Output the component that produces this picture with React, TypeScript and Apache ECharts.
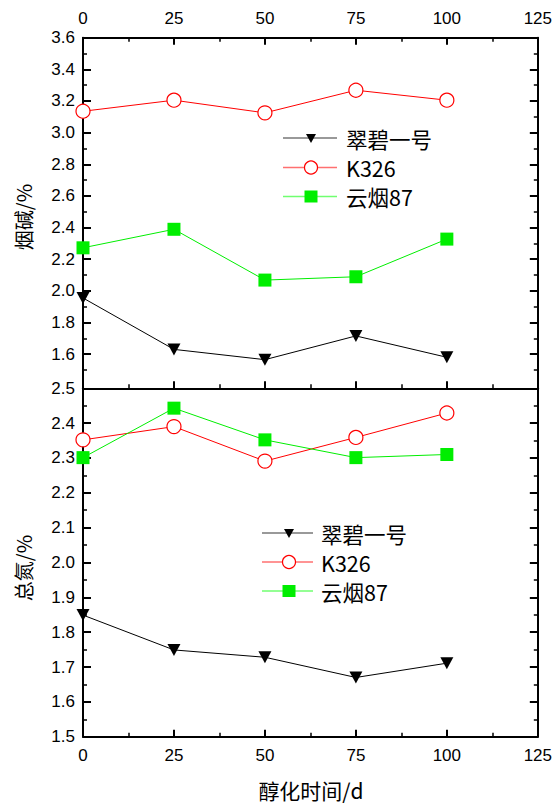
import React, { useEffect, useRef } from "react";
import * as echarts from "echarts";

const xDays = [0, 25, 50, 75, 100];
const seriesNames = ["翠碧一号", "K326", "云烟87"];

// Top panel: 烟碱/%
const nicotineCuibi = [1.955, 1.63, 1.565, 1.715, 1.58];
const nicotineK326 = [3.135, 3.205, 3.125, 3.268, 3.205];
const nicotineYunyan = [2.272, 2.389, 2.068, 2.089, 2.327];

// Bottom panel: 总氮/%
const nitrogenCuibi = [1.849, 1.749, 1.728, 1.67, 1.711];
const nitrogenK326 = [2.352, 2.39, 2.291, 2.359, 2.429];
const nitrogenYunyan = [2.301, 2.443, 2.352, 2.301, 2.31];

const topMajorTicks = [1.6, 1.8, 2.0, 2.2, 2.4, 2.6, 2.8, 3.0, 3.2, 3.4, 3.6];
const topMinorTicks = [1.5, 1.7, 1.9, 2.1, 2.3, 2.5, 2.7, 2.9, 3.1, 3.3, 3.5];

const FONT = "'Liberation Sans', Arial, 'Noto Sans CJK SC', sans-serif";
const CJK = "'Noto Sans CJK SC', 'Liberation Sans', sans-serif";

const colors = ["#000000", "#ff0000", "#00ee00"];
const legendLine = ["#777777", "#ff7070", "#70ff70"];
const symbols = ["path://M0,0L10,0L5,9Z", "circle", "rect"];
const symbolSizes: any[] = [[13, 12], 14, 13];

function pairs(vals: number[]) {
  return xDays.map((x, i) => [x, vals[i]]);
}

function legendGraphics(x0: number, lineLen: number, symX: number, textX: number, rows: number[]) {
  const els: any[] = [];
  rows.forEach((y, i) => {
    els.push({
      type: "line", shape: { x1: x0, y1: y, x2: x0 + lineLen, y2: y },
      style: { stroke: legendLine[i], lineWidth: 1.5 }, z: 10,
    });
    if (i === 0) {
      els.push({
        type: "polygon", shape: { points: [[symX - 5, y - 4], [symX + 5, y - 4], [symX, y + 5]] },
        style: { fill: "#000" }, z: 11,
      });
    } else if (i === 1) {
      els.push({
        type: "circle", shape: { cx: symX, cy: y, r: 6.5 },
        style: { fill: "#fff", stroke: colors[1], lineWidth: 1.2 }, z: 11,
      });
    } else {
      els.push({
        type: "rect", shape: { x: symX - 6.5, y: y - 6, width: 13, height: 12 },
        style: { fill: colors[2] }, z: 11,
      });
    }
    els.push({
      type: "text", x: textX, y,
      style: {
        text: seriesNames[i], fontSize: 21.5, fontFamily: CJK, fill: "#000",
        textAlign: "left", textVerticalAlign: "middle",
      }, z: 11,
    });
  });
  return els;
}

export default function App() {
  const ref = useRef<HTMLDivElement>(null);
  useEffect(() => {
    document.body.style.margin = "0";
    const chart = echarts.init(ref.current!, null, { renderer: "svg" });
    const axisLine = { show: true, lineStyle: { color: "#000", width: 2 } };
    const label = { color: "#000", fontSize: 17, fontFamily: FONT };
    const xBase = { type: "value", min: 0, max: 125, interval: 25, splitLine: { show: false } };
    const topMin = 1.384;
    const majorTick = (len: number) => ({ show: true, inside: true, length: len, lineStyle: { width: 2, color: "#000" } });
    const minorTick = { show: true, splitNumber: 2, length: 4, lineStyle: { width: 1.5, color: "#000" } };

    const mkSeries = (name: string, i: number, vals: number[], xi: number, yi: number) => ({
      name,
      type: "line",
      xAxisIndex: xi,
      yAxisIndex: yi,
      data: pairs(vals),
      symbol: symbols[i],
      symbolSize: symbolSizes[i],
      lineStyle: { color: colors[i], width: 1 },
      itemStyle: i === 1
        ? { color: "#ffffff", borderColor: colors[i], borderWidth: 1.2 }
        : { color: colors[i], borderWidth: 0 },
      color: colors[i],
      z: 3,
    });

    chart.setOption({
      animation: false,
      backgroundColor: "#ffffff",
      grid: [
        { left: 83, right: 14, top: 37.7, bottom: 416.7 },
        { left: 83, right: 14, top: 388.3, bottom: 68.3 },
      ],
      xAxis: [
        {
          ...xBase, gridIndex: 0, position: "top", axisLine,
          axisTick: majorTick(7), minorTick,
          axisLabel: { ...label, margin: 11 },
        },
        {
          ...xBase, gridIndex: 0, position: "bottom", axisLine,
          axisTick: majorTick(7), minorTick,
          axisLabel: { show: false },
        },
        {
          ...xBase, gridIndex: 1, position: "bottom", axisLine,
          axisTick: majorTick(7), minorTick,
          axisLabel: { ...label, margin: 10 },
        },
      ],
      yAxis: [
        {
          type: "value", gridIndex: 0, position: "left", min: topMin, max: 3.6, axisLine,
          splitLine: { show: false },
          axisTick: { ...majorTick(8), customValues: topMajorTicks },
          axisLabel: { ...label, margin: 8, customValues: topMajorTicks, formatter: (v: number) => v.toFixed(1) },
        },
        {
          type: "value", gridIndex: 0, position: "left", min: topMin, max: 3.6,
          axisLine: { show: false }, splitLine: { show: false },
          axisTick: { show: true, inside: true, length: 4, customValues: topMinorTicks, lineStyle: { width: 1.5, color: "#000" } },
          axisLabel: { show: false },
        },
        {
          type: "value", gridIndex: 0, position: "right", min: topMin, max: 3.6, axisLine,
          splitLine: { show: false },
          axisTick: { ...majorTick(8), customValues: topMajorTicks },
          axisLabel: { show: false },
        },
        {
          type: "value", gridIndex: 0, position: "right", min: topMin, max: 3.6,
          axisLine: { show: false }, splitLine: { show: false },
          axisTick: { show: true, inside: true, length: 4, customValues: topMinorTicks, lineStyle: { width: 1.5, color: "#000" } },
          axisLabel: { show: false },
        },
        {
          type: "value", gridIndex: 1, position: "left", min: 1.5, max: 2.5, interval: 0.1, axisLine,
          splitLine: { show: false },
          axisTick: majorTick(8), minorTick,
          axisLabel: { ...label, margin: 8, formatter: (v: number) => v.toFixed(1) },
        },
        {
          type: "value", gridIndex: 1, position: "right", min: 1.5, max: 2.5, interval: 0.1, axisLine,
          splitLine: { show: false },
          axisTick: majorTick(8), minorTick,
          axisLabel: { show: false },
        },
      ],
      series: [
        mkSeries(seriesNames[0], 0, nicotineCuibi, 1, 0),
        mkSeries(seriesNames[1], 1, nicotineK326, 1, 0),
        mkSeries(seriesNames[2], 2, nicotineYunyan, 1, 0),
        mkSeries(seriesNames[0], 0, nitrogenCuibi, 2, 4),
        mkSeries(seriesNames[1], 1, nitrogenK326, 2, 4),
        mkSeries(seriesNames[2], 2, nitrogenYunyan, 2, 4),
      ],
      graphic: [
        ...legendGraphics(283, 54, 311, 346, [138, 167.5, 196.5]),
        ...legendGraphics(262, 51, 289, 321, [533, 562, 591]),
        {
          type: "text", x: 23, y: 217, rotation: Math.PI / 2,
          style: { text: "烟碱/%", fontSize: 20, fontFamily: CJK, fill: "#000", textAlign: "center", textVerticalAlign: "middle" },
        },
        {
          type: "text", x: 23, y: 568, rotation: Math.PI / 2,
          style: { text: "总氮/%", fontSize: 20, fontFamily: CJK, fill: "#000", textAlign: "center", textVerticalAlign: "middle" },
        },
        {
          type: "text", x: 311, y: 790,
          style: { text: "醇化时间/d", fontSize: 21, fontFamily: CJK, fill: "#000", textAlign: "center", textVerticalAlign: "middle" },
        },
      ],
    });
    return () => chart.dispose();
  }, []);
  return <div ref={ref} style={{ width: 555, height: 805 }} />;
}
